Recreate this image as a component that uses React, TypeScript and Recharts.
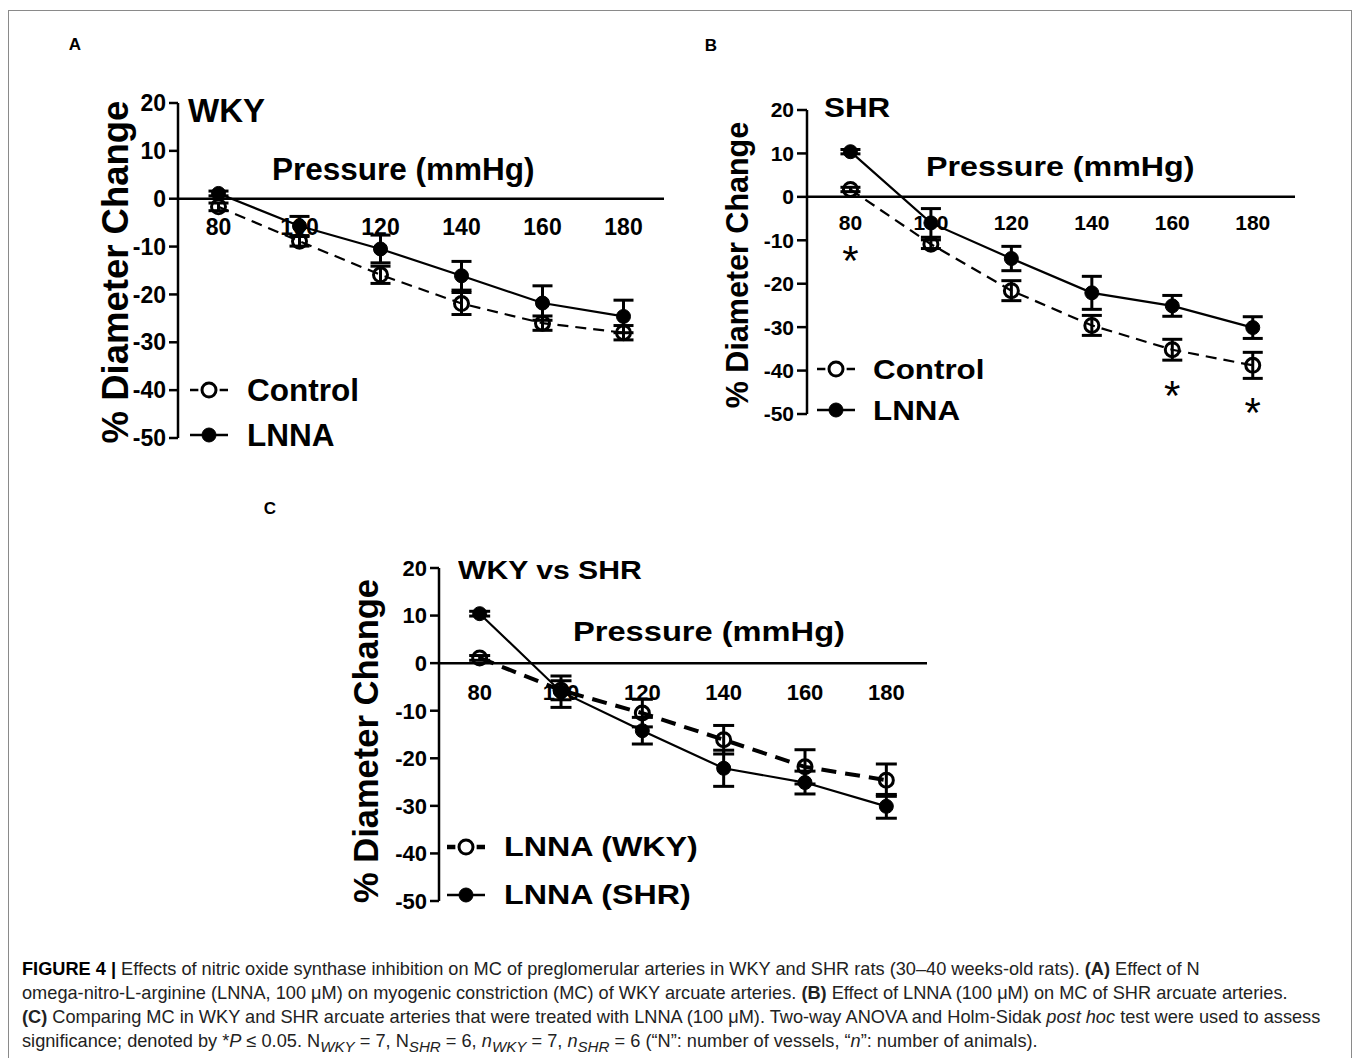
import { ComposedChart, Line, XAxis, YAxis, ErrorBar, ReferenceLine, Scatter } from "recharts";
import type { CSSProperties, ReactNode } from "react";

// pressure steps (mmHg) and % diameter change
const pressure = [80, 100, 120, 140, 160, 180];
const yTicks = [20, 10, 0, -10, -20, -30, -40, -50];

const wkyControl = [-1.7, -8.9, -15.9, -21.9, -26.0, -28.0];
const wkyControlErr = [0.8, 1.0, 1.8, 2.3, 1.5, 1.5];
const wkyLnna = [1.1, -5.7, -10.5, -16.1, -21.8, -24.6];
const wkyLnnaErr = [0.5, 2.0, 2.9, 3.0, 3.6, 3.4];

const shrControl = [1.7, -10.9, -21.6, -29.6, -35.2, -38.8];
const shrControlErr = [0.5, 1.0, 2.3, 2.3, 2.4, 3.0];
const shrLnna = [10.4, -6.0, -14.2, -22.1, -25.1, -30.1];
const shrLnnaErr = [0.5, 3.3, 2.8, 3.8, 2.4, 2.5];
// where the significance asterisks sit in panel B
const shrStar = [-13, null, null, null, -44, -48];

const FONT = '"Liberation Sans", Arial, Helvetica, sans-serif';
const X_AXIS_H = 20;

type Row = { p: number; a: number; aErr: number; b: number; bErr: number };

const toRows = (a: number[], aErr: number[], b: number[], bErr: number[]): Row[] =>
  pressure.map((p, i) => ({ p, a: a[i], aErr: aErr[i], b: b[i], bErr: bErr[i] }));

const dataA = toRows(wkyControl, wkyControlErr, wkyLnna, wkyLnnaErr);
const dataB = toRows(shrControl, shrControlErr, shrLnna, shrLnnaErr);
const dataC = toRows(wkyLnna, wkyLnnaErr, shrLnna, shrLnnaErr);
const starsB = pressure
  .map((p, i) => ({ p, star: shrStar[i] }))
  .filter((d) => d.star !== null);

type SeriesStyle = { open: boolean; width: number; dash?: string };

type PanelProps = {
  left: number;
  top: number;
  width: number;
  height: number;
  margin: { top: number; right: number; bottom: number; left: number };
  yAxisWidth: number;
  yTickSize: number;
  xDomain: [number, number];
  data: Row[];
  a: SeriesStyle;
  b: SeriesStyle;
  r: number;
  capW: number;
  tickFs: number;
  xTickGap: number;
  stars?: { p: number; star: number | null }[];
};

function Panel(p: PanelProps) {
  const plotH = p.height - p.margin.top - p.margin.bottom - X_AXIS_H;
  const zeroFromBottom = (plotH * 50) / 70;

  // x tick labels hang under the zero line, not under the plot
  const XTick = (t: any) => (
    <text
      x={t.x}
      y={t.y - zeroFromBottom + p.xTickGap + p.tickFs * 0.358}
      textAnchor="middle"
      fontSize={p.tickFs}
      fontWeight="bold"
      fontFamily={FONT}
      fill="#000"
    >
      {t.payload.value}
    </text>
  );

  const dot = (s: SeriesStyle) => (d: any) => (
    <circle
      key={d.index}
      cx={d.cx}
      cy={d.cy}
      r={p.r}
      fill={s.open ? "none" : "#000"}
      stroke="#000"
      strokeWidth={s.open ? 3 : 1}
    />
  );

  const line = (key: "a" | "b", s: SeriesStyle) => (
    <Line
      dataKey={key}
      stroke="#000"
      strokeWidth={s.width}
      strokeDasharray={s.dash}
      dot={dot(s)}
      activeDot={false}
      isAnimationActive={false}
    >
      <ErrorBar dataKey={key + "Err"} direction="y" width={p.capW} strokeWidth={3} stroke="#000" />
    </Line>
  );

  return (
    <div style={{ position: "absolute", left: p.left, top: p.top }}>
      <ComposedChart width={p.width} height={p.height} data={p.data} margin={p.margin}>
        <XAxis
          type="number"
          dataKey="p"
          domain={p.xDomain}
          ticks={pressure}
          interval={0}
          allowDataOverflow
          axisLine={false}
          tickLine={false}
          tickSize={0}
          tickMargin={0}
          height={X_AXIS_H}
          tick={XTick}
        />
        <YAxis
          type="number"
          domain={[-50, 20]}
          ticks={yTicks}
          interval={0}
          allowDataOverflow
          width={p.yAxisWidth}
          axisLine={{ stroke: "#000", strokeWidth: 2.5 }}
          tickLine={{ stroke: "#000", strokeWidth: 2.5 }}
          tickSize={p.yTickSize}
          tickMargin={3}
          tick={{ fontSize: p.tickFs, fontWeight: "bold", fill: "#000", fontFamily: FONT }}
        />
        <ReferenceLine y={0} stroke="#000" strokeWidth={2.5} />
        {line("a", p.a)}
        {line("b", p.b)}
        {p.stars && (
          <Scatter
            data={p.stars}
            dataKey="star"
            isAnimationActive={false}
            shape={(s: any) => (
              <text
                x={s.cx}
                y={s.cy + 22}
                textAnchor="middle"
                fontSize={42}
                fontFamily={FONT}
                fill="#000"
              >
                *
              </text>
            )}
          />
        )}
      </ComposedChart>
    </div>
  );
}

// text placed by the centre of its capitals; sx stretches it sideways
function Txt({
  x,
  cy,
  fs,
  children,
  sx = 1,
  anchor = "start",
}: {
  x: number;
  cy: number;
  fs: number;
  children: ReactNode;
  sx?: number;
  anchor?: "start" | "middle";
}) {
  const style: CSSProperties = {
    position: "absolute",
    left: x,
    top: cy - fs * 0.49,
    fontSize: fs,
    lineHeight: 1,
    fontWeight: "bold",
    fontFamily: FONT,
    whiteSpace: "nowrap",
    color: "#000",
    transformOrigin: "left center",
    transform: anchor === "middle" ? "translateX(-50%)" : `scaleX(${sx})`,
  };
  return <div style={style}>{children}</div>;
}

function YTitle({ cx, cy, fs }: { cx: number; cy: number; fs: number }) {
  return (
    <div
      style={{
        position: "absolute",
        left: cx,
        top: cy,
        transform: "translate(-50%, -50%) rotate(-90deg)",
        fontSize: fs,
        lineHeight: 1,
        fontWeight: "bold",
        fontFamily: FONT,
        whiteSpace: "nowrap",
        color: "#000",
      }}
    >
      % Diameter Change
    </div>
  );
}

function LegendRow({
  x,
  cy,
  w,
  r,
  s,
  fs,
  sx,
  textX,
  label,
}: {
  x: number;
  cy: number;
  w: number;
  r: number;
  s: SeriesStyle;
  fs: number;
  sx: number;
  textX: number;
  label: string;
}) {
  const h = r * 2 + 6;
  return (
    <>
      <svg
        width={w}
        height={h}
        style={{ position: "absolute", left: x, top: cy - h / 2, overflow: "visible" }}
      >
        <line
          x1={0}
          x2={w}
          y1={h / 2}
          y2={h / 2}
          stroke="#000"
          strokeWidth={s.width + 0.5}
          strokeDasharray={s.dash ? `${w * 0.22} ${w * 0.56} ${w * 0.22}` : undefined}
        />
        <circle
          cx={w / 2}
          cy={h / 2}
          r={r}
          fill={s.open ? "none" : "#000"}
          stroke="#000"
          strokeWidth={s.open ? 3 : 1}
        />
      </svg>
      <Txt x={textX} cy={cy} fs={fs} sx={sx}>
        {label}
      </Txt>
    </>
  );
}

const controlStyle: SeriesStyle = { open: true, width: 2.2, dash: "11 7" };
const lnnaStyle: SeriesStyle = { open: false, width: 2.2 };
const wkyThick: SeriesStyle = { open: true, width: 4, dash: "15 9" };

const captionLine: CSSProperties = { whiteSpace: "nowrap", height: 24 };

export default function App() {
  return (
    <div
      style={{
        position: "absolute",
        left: 0,
        top: 0,
        width: 1357,
        height: 1058,
        background: "#fff",
        overflow: "hidden",
      }}
    >
      <div
        style={{
          position: "absolute",
          left: 8,
          top: 10,
          width: 1344,
          height: 1100,
          border: "1.5px solid #8a8a8a",
          boxSizing: "border-box",
        }}
      />

      {/* Panel A: WKY */}
      <Txt x={75} cy={44} fs={17} anchor="middle">A</Txt>
      <Panel
        left={60}
        top={60}
        width={640}
        height={420}
        margin={{ top: 43, right: 36, bottom: 22, left: 38 }}
        yAxisWidth={80}
        yTickSize={9}
        xDomain={[70, 190]}
        data={dataA}
        a={controlStyle}
        b={lnnaStyle}
        r={7}
        capW={10}
        tickFs={23}
        xTickGap={28}
      />
      <YTitle cx={116} cy={272} fs={36.5} />
      <Txt x={188} cy={110} fs={33}>WKY</Txt>
      <Txt x={272} cy={169} fs={31.5}>Pressure (mmHg)</Txt>
      <LegendRow x={190} cy={390} w={38} r={7} s={controlStyle} fs={31.5} sx={1} textX={247} label="Control" />
      <LegendRow x={190} cy={435} w={38} r={7} s={lnnaStyle} fs={31.5} sx={1} textX={247} label="LNNA" />

      {/* Panel B: SHR */}
      <Txt x={711} cy={45} fs={17} anchor="middle">B</Txt>
      <Panel
        left={700}
        top={60}
        width={640}
        height={400}
        margin={{ top: 50, right: 45, bottom: 26, left: 27 }}
        yAxisWidth={80}
        yTickSize={10}
        xDomain={[69.2, 190.5]}
        data={dataB}
        a={controlStyle}
        b={lnnaStyle}
        r={7}
        capW={10}
        tickFs={21}
        xTickGap={26}
        stars={starsB}
      />
      <YTitle cx={737} cy={265} fs={30.5} />
      <Txt x={824} cy={108} fs={28} sx={1.12}>SHR</Txt>
      <Txt x={926} cy={167} fs={28} sx={1.15}>Pressure (mmHg)</Txt>
      <LegendRow x={817} cy={369} w={38} r={7} s={controlStyle} fs={28.5} sx={1.1} textX={873} label="Control" />
      <LegendRow x={817} cy={410} w={38} r={7} s={lnnaStyle} fs={28.5} sx={1.1} textX={873} label="LNNA" />

      {/* Panel C: WKY vs SHR */}
      <Txt x={270} cy={508} fs={17} anchor="middle">C</Txt>
      <Panel
        left={340}
        top={520}
        width={620}
        height={420}
        margin={{ top: 48, right: 33, bottom: 19, left: 19 }}
        yAxisWidth={80}
        yTickSize={9}
        xDomain={[70, 190]}
        data={dataC}
        a={wkyThick}
        b={lnnaStyle}
        r={7}
        capW={10.5}
        tickFs={22}
        xTickGap={28.7}
      />
      <YTitle cx={366} cy={741} fs={34.5} />
      <Txt x={458} cy={570} fs={26} sx={1.16}>WKY vs SHR</Txt>
      <Txt x={573} cy={632} fs={28} sx={1.165}>Pressure (mmHg)</Txt>
      <LegendRow x={447} cy={847} w={38} r={7} s={wkyThick} fs={28} sx={1.15} textX={504} label="LNNA (WKY)" />
      <LegendRow x={447} cy={895} w={38} r={7} s={lnnaStyle} fs={28} sx={1.15} textX={504} label="LNNA (SHR)" />

      {/* caption */}
      <div
        style={{
          position: "absolute",
          left: 22,
          top: 957,
          fontFamily: FONT,
          fontSize: 18.2,
          lineHeight: "24px",
          color: "#222",
        }}
      >
        <div style={captionLine}>
          <b style={{ color: "#000" }}>FIGURE 4 |</b> Effects of nitric oxide synthase inhibition on MC of
          preglomerular arteries in WKY and SHR rats (30–40 weeks-old rats). <b>(A)</b> Effect of N
        </div>
        <div style={captionLine}>
          omega-nitro-L-arginine (LNNA, 100 μM) on myogenic constriction (MC) of WKY arcuate arteries.{" "}
          <b>(B)</b> Effect of LNNA (100 μM) on MC of SHR arcuate arteries.
        </div>
        <div style={captionLine}>
          <b>(C)</b> Comparing MC in WKY and SHR arcuate arteries that were treated with LNNA (100 μM).
          Two-way ANOVA and Holm-Sidak <i>post hoc</i> test were used to assess
        </div>
        <div style={captionLine}>
          significance; denoted by *<i>P</i> ≤ 0.05. N<sub><i>WKY</i></sub> = 7, N<sub><i>SHR</i></sub> = 6,{" "}
          <i>n</i>
          <sub>
            <i>WKY</i>
          </sub>{" "}
          = 7, <i>n</i>
          <sub>
            <i>SHR</i>
          </sub>{" "}
          = 6 (“N”: number of vessels, “<i>n</i>”: number of animals).
        </div>
      </div>
    </div>
  );
}
